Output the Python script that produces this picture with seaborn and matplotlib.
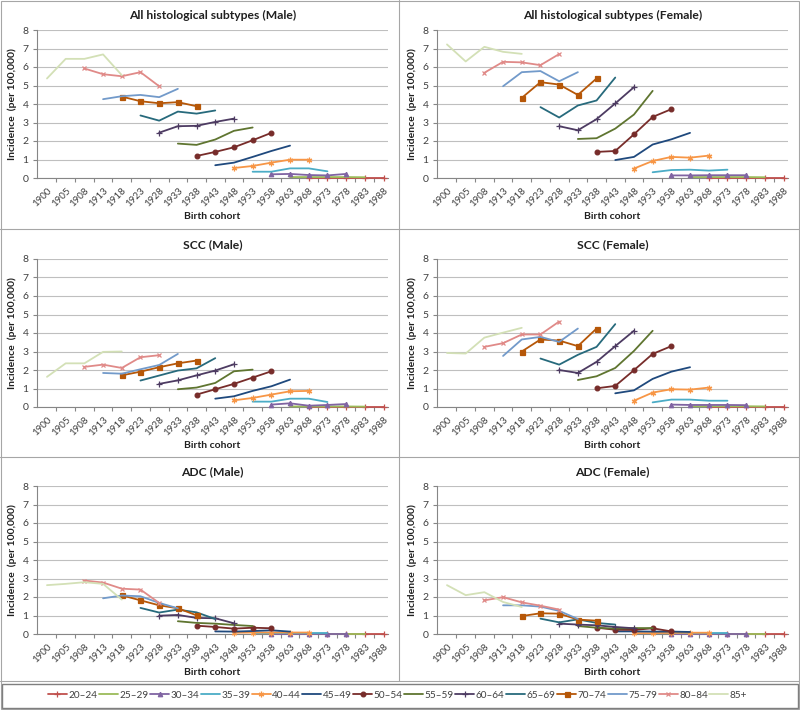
import numpy as np
import matplotlib
matplotlib.use("Agg")
import matplotlib.pyplot as plt
from matplotlib.lines import Line2D
from matplotlib.patches import Rectangle
import seaborn as sns

# ---- data -------------------------------------------------------------
cohorts = ["1900", "1905", "1908", "1913", "1918", "1923", "1928", "1933", "1938", "1943",
           "1948", "1953", "1958", "1963", "1968", "1973", "1978", "1983", "1988"]

age_groups = ["20–24", "25–29", "30–34", "35–39", "40–44", "45–49", "50–54",
              "55–59", "60–64", "65–69", "70–74", "75–79", "80–84", "85+"]

# first birth cohort of each age group (5 consecutive cohorts each)
first_cohort = ["1968", "1963", "1958", "1953", "1948", "1943", "1938",
                "1933", "1928", "1923", "1918", "1913", "1908", "1900"]

all_male = [
    [0.02, 0.02, 0.02, 0.02, 0.02],
    [0.05, 0.05, 0.05, 0.05, 0.04],
    [0.20, 0.22, 0.16, 0.14, 0.22],
    [0.34, 0.34, 0.52, 0.52, 0.36],
    [0.54, 0.65, 0.83, 0.99, 0.99],
    [0.69, 0.83, 1.14, 1.46, 1.75],
    [1.19, 1.41, 1.66, 2.04, 2.44],
    [1.86, 1.79, 2.08, 2.55, 2.73],
    [2.45, 2.80, 2.82, 3.03, 3.21],
    [3.38, 3.10, 3.59, 3.48, 3.65],
    [4.40, 4.15, 4.04, 4.10, 3.88],
    [4.26, 4.42, 4.49, 4.37, 4.82],
    [5.92, 5.61, 5.50, 5.72, 4.96],
    [5.38, 6.44, 6.44, 6.68, 5.56],
]

all_female = [
    [0.02, 0.02, 0.02, 0.02, 0.02],
    [0.05, 0.05, 0.05, 0.05, 0.04],
    [0.14, 0.14, 0.15, 0.15, 0.15],
    [0.31, 0.43, 0.45, 0.40, 0.45],
    [0.51, 0.92, 1.14, 1.10, 1.21],
    [0.97, 1.14, 1.81, 2.09, 2.44],
    [1.41, 1.46, 2.36, 3.30, 3.72],
    [2.11, 2.15, 2.67, 3.43, 4.71],
    [2.80, 2.58, 3.18, 4.03, 4.91],
    [3.83, 3.27, 3.92, 4.19, 5.43],
    [4.33, 5.18, 5.05, 4.49, 5.38],
    [4.96, 5.72, 5.78, 5.23, 5.72],
    [5.69, 6.28, 6.25, 6.10, 6.70],
    [7.22, 6.30, 7.09, 6.82, 6.71],
]

scc_male = [
    [0.01, 0.01, 0.01, 0.01, 0.01],
    [0.03, 0.03, 0.03, 0.03, 0.02],
    [0.13, 0.20, 0.07, 0.11, 0.16],
    [0.29, 0.29, 0.45, 0.45, 0.27],
    [0.36, 0.49, 0.67, 0.85, 0.87],
    [0.45, 0.58, 0.87, 1.12, 1.48],
    [0.67, 0.96, 1.25, 1.59, 1.93],
    [0.96, 1.05, 1.30, 1.93, 2.02],
    [1.25, 1.44, 1.71, 1.97, 2.31],
    [1.43, 1.70, 1.97, 2.09, 2.64],
    [1.71, 1.91, 2.15, 2.36, 2.51],
    [1.84, 1.80, 2.04, 2.27, 2.87],
    [2.17, 2.29, 2.11, 2.69, 2.80],
    [1.63, 2.36, 2.36, 2.98, 3.00],
]

scc_female = [
    [0.01, 0.01, 0.01, 0.01, 0.01],
    [0.04, 0.04, 0.04, 0.04, 0.03],
    [0.13, 0.11, 0.11, 0.11, 0.10],
    [0.25, 0.40, 0.40, 0.34, 0.34],
    [0.34, 0.78, 0.96, 0.94, 1.05],
    [0.74, 0.90, 1.52, 1.91, 2.15],
    [1.01, 1.14, 1.99, 2.87, 3.29],
    [1.46, 1.66, 2.11, 3.03, 4.12],
    [2.00, 1.84, 2.44, 3.29, 4.12],
    [2.62, 2.29, 2.82, 3.25, 4.48],
    [3.00, 3.65, 3.59, 3.29, 4.24],
    [2.76, 3.65, 3.79, 3.52, 4.24],
    [3.25, 3.45, 3.92, 3.92, 4.62],
    [2.92, 2.89, 3.75, 4.02, 4.28],
]

adc_male = [
    [0.00, 0.00, 0.00, 0.00, 0.00],
    [0.01, 0.01, 0.01, 0.01, 0.01],
    [0.02, 0.02, 0.02, 0.02, 0.02],
    [0.05, 0.05, 0.05, 0.05, 0.05],
    [0.07, 0.08, 0.08, 0.08, 0.08],
    [0.14, 0.13, 0.16, 0.20, 0.13],
    [0.45, 0.38, 0.29, 0.34, 0.31],
    [0.69, 0.60, 0.56, 0.49, 0.43],
    [0.99, 1.03, 0.87, 0.85, 0.58],
    [1.41, 1.16, 1.32, 1.17, 0.81],
    [2.09, 1.82, 1.55, 1.39, 1.01],
    [1.93, 2.08, 2.04, 1.68, 1.39],
    [2.89, 2.78, 2.45, 2.40, 1.68],
    [2.64, 2.71, 2.80, 2.71, 1.86],
]

adc_female = [
    [0.01, 0.01, 0.01, 0.01, 0.01],
    [0.01, 0.01, 0.01, 0.01, 0.01],
    [0.02, 0.02, 0.02, 0.02, 0.02],
    [0.03, 0.03, 0.03, 0.03, 0.03],
    [0.05, 0.05, 0.06, 0.07, 0.07],
    [0.14, 0.14, 0.13, 0.13, 0.11],
    [0.34, 0.23, 0.22, 0.31, 0.14],
    [0.43, 0.34, 0.29, 0.32, 0.32],
    [0.56, 0.51, 0.47, 0.38, 0.31],
    [0.83, 0.63, 0.79, 0.60, 0.51],
    [0.97, 1.12, 1.10, 0.78, 0.72],
    [1.55, 1.55, 1.48, 1.25, 0.81],
    [1.82, 1.99, 1.71, 1.53, 1.32],
    [2.64, 2.10, 2.26, 1.73, 1.46],
]

panel_titles = ["All histological subtypes (Male)", "All histological subtypes (Female)",
                "SCC (Male)", "SCC (Female)", "ADC (Male)", "ADC (Female)"]
panel_values = [all_male, all_female, scc_male, scc_female, adc_male, adc_female]

# ---- styles -----------------------------------------------------------
colors = ["#C0504D", "#9BBB59", "#8064A2", "#4BACC6", "#F79646", "#1F497D", "#772C2A",
          "#5F7530", "#4D3B62", "#276A7C", "#B65708", "#729ACA", "#E08A88", "#D3E0B6"]
markers = ["+", None, "^", None, (6, 2, 0), None, "o",
           None, "+", None, "s", None, "x", None]
msizes = [4.0, 0, 3.2, 0, 4.0, 0, 3.4, 0, 4.0, 0, 3.6, 0, 3.4, 0]

sns.set_theme(style="white")
plt.rcParams["font.family"] = ["Lato", "DejaVu Sans"]

W, H = 800, 710
fig = plt.figure(figsize=(8, 7.1), dpi=100)
fig.patch.set_facecolor("white")

col_left = [36.7, 436.7]
ax_w = 351.5
row_bottom = [178, 407, 634]
ax_h = 148
grid_col = "#BFBFBF"
axis_col = "#868686"
text_col = "#404040"


def draw_panel(ax, values, title):
    for i, age in enumerate(age_groups):
        start = cohorts.index(first_cohort[i])
        xs = np.arange(start, start + len(values[i]))
        kw = {}
        if markers[i] is not None:
            kw = dict(marker=markers[i], markersize=msizes[i],
                      markeredgecolor=colors[i], markerfacecolor=colors[i],
                      markeredgewidth=0.9)
        sns.lineplot(x=xs, y=values[i], color=colors[i], lw=1.3, ax=ax,
                     zorder=3, clip_on=False, **kw)

    ax.set_xlim(-0.55, 18.25)
    ax.set_ylim(0, 8)
    ax.set_yticks(range(9))
    ax.set_xticks(range(len(cohorts)))
    ax.set_xticklabels(cohorts, rotation=45, ha="right", va="top",
                       rotation_mode="anchor", fontsize=7, color=text_col)
    ax.set_xticks(np.arange(0.5, len(cohorts) - 1, 1), minor=True)
    ax.tick_params(axis="x", which="major", length=0, pad=6)
    ax.tick_params(axis="x", which="minor", length=3, width=0.8, color=axis_col,
                   direction="out", bottom=True)
    ax.tick_params(axis="y", length=3, width=0.8, color=axis_col, direction="out",
                   labelsize=7.5, labelcolor=text_col, pad=3, left=True)
    ax.yaxis.grid(True, color=grid_col, lw=0.8)
    ax.xaxis.grid(False)
    for s in ["top", "right"]:
        ax.spines[s].set_visible(False)
    for s in ["left", "bottom"]:
        ax.spines[s].set_color(axis_col)
        ax.spines[s].set_linewidth(0.8)
    ax.set_title(title, fontsize=8.7, fontweight="bold", color="#202020", pad=8)
    ax.set_xlabel("Birth cohort", fontsize=7.5, fontweight="bold", color="#202020", labelpad=2)
    ax.set_ylabel("Incidence  (per 100,000)", fontsize=7.5, fontweight="bold",
                  color="#202020", labelpad=4)


for k in range(6):
    r, c = divmod(k, 2)
    ax = fig.add_axes([col_left[c] / W, 1 - row_bottom[r] / H, ax_w / W, ax_h / H])
    draw_panel(ax, panel_values[k], panel_titles[k])

# panel separators and frame
line_col = "#A6A6A6"
for y in [229, 457, 681]:
    fig.add_artist(Line2D([0, 1], [1 - y / H, 1 - y / H], color=line_col, lw=0.8))
fig.add_artist(Line2D([399 / W, 399 / W], [1 - 681 / H, 1], color=line_col, lw=0.8))
fig.add_artist(Rectangle((1 / W, 1 / H), 798 / W, 708 / H, fill=False,
                         edgecolor=line_col, lw=0.8))
fig.add_artist(Rectangle((2 / W, 2 / H), 796 / W, 24 / H, fill=False,
                         edgecolor="#7F7F7F", lw=1.0))

handles = []
for i, age in enumerate(age_groups):
    if markers[i] is not None:
        h = Line2D([], [], color=colors[i], lw=1.3, marker=markers[i],
                   markersize=msizes[i], markeredgecolor=colors[i],
                   markerfacecolor=colors[i], markeredgewidth=0.9)
    else:
        h = Line2D([], [], color=colors[i], lw=1.3)
    handles.append(h)
fig.legend(handles, age_groups, loc="center", bbox_to_anchor=(0.497, 1 - 695 / H),
           ncol=14, frameon=False, fontsize=7.2, handlelength=1.9,
           handletextpad=0.15, columnspacing=0.15, labelcolor=text_col)

fig.savefig("out.png", dpi=100, facecolor="white")
